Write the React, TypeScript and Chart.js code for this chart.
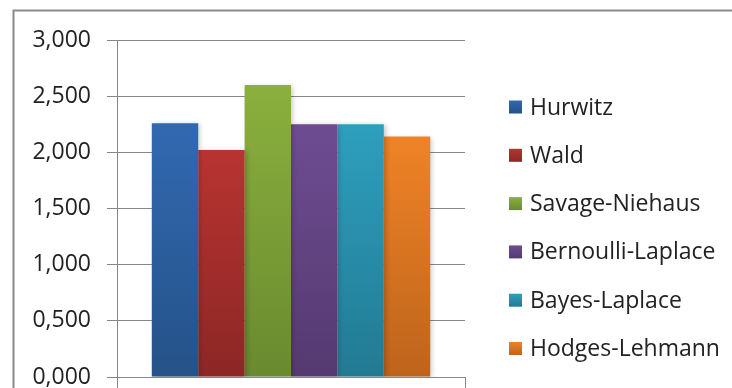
import { useEffect, useRef } from 'react';
import { Chart, registerables } from 'chart.js';

Chart.register(...registerables);

// Data
const categories = [''];
const seriesNames = [
  'Hurwitz',
  'Wald',
  'Savage-Niehaus',
  'Bernoulli-Laplace',
  'Bayes-Laplace',
  'Hodges-Lehmann',
];
const seriesValues = [2.26, 2.02, 2.6, 2.25, 2.25, 2.14];
const yMin = 0;
const yMax = 3;
const yStep = 0.5;

// Bar fills: lighter at the top, darker at the base
const topColors = ['#3169b1', '#b83431', '#8bb03e', '#6e4c92', '#2e9fbe', '#ef8326'];
const bottomColors = ['#255287', '#8b2725', '#698a2f', '#543a70', '#227a92', '#bd641c'];

const FONT = '"Open Sans", sans-serif';
const TEXT = '#222222';
const LINE = '#878787';

const formatTick = (v: number) => v.toFixed(3).replace('.', ',');

function barFill(ctx: any) {
  const i = ctx.datasetIndex;
  const chart = ctx.chart;
  if (!chart.chartArea || !chart.scales.y) return topColors[i];
  const y = chart.scales.y;
  const v = typeof ctx.raw === 'number' ? ctx.raw : seriesValues[i];
  const top = y.getPixelForValue(v);
  const base = y.getPixelForValue(0);
  const g = chart.ctx.createLinearGradient(0, top, 0, base);
  g.addColorStop(0, topColors[i]);
  g.addColorStop(1, bottomColors[i]);
  return g;
}

// White page and the outer frame of the chart object
const framePlugin = {
  id: 'frame',
  beforeDraw(chart: any) {
    const { ctx, width, height } = chart;
    ctx.save();
    ctx.fillStyle = '#ffffff';
    ctx.fillRect(0, 0, width, height);
    ctx.strokeStyle = '#8a8a8a';
    ctx.lineWidth = 2;
    ctx.beginPath();
    ctx.moveTo(13.5, height);
    ctx.lineTo(13.5, 10.5);
    ctx.lineTo(width, 10.5);
    ctx.stroke();
    ctx.restore();
  },
};

// Soft drop shadow behind the bars
const shadowPlugin = {
  id: 'barShadow',
  beforeDatasetsDraw(chart: any) {
    const ctx = chart.ctx;
    ctx.save();
    ctx.shadowColor = 'rgba(0,0,0,0.22)';
    ctx.shadowBlur = 5;
    ctx.shadowOffsetX = 2;
    ctx.shadowOffsetY = 1;
  },
  afterDatasetsDraw(chart: any) {
    chart.ctx.restore();
  },
};

// Legend on the right, one row per series
const legendPlugin = {
  id: 'sideLegend',
  afterDraw(chart: any) {
    const ctx = chart.ctx;
    const boxX = 509;
    const box = 13;
    const textX = 530;
    const firstY = 107;
    const rowStep = 48.3;
    ctx.save();
    ctx.font = `23px ${FONT}`;
    ctx.textBaseline = 'middle';
    ctx.textAlign = 'left';
    chart.data.datasets.forEach((ds: any, i: number) => {
      const cy = firstY + i * rowStep;
      const g = ctx.createLinearGradient(0, cy - box / 2, 0, cy + box / 2);
      g.addColorStop(0, topColors[i]);
      g.addColorStop(1, bottomColors[i]);
      ctx.fillStyle = g;
      ctx.fillRect(boxX, cy - box / 2, box, box);
      ctx.fillStyle = TEXT;
      ctx.fillText(ds.label, textX, cy + 1);
    });
    ctx.restore();
  },
};

export default function App() {
  const ref = useRef<HTMLCanvasElement>(null);

  useEffect(() => {
    document.body.style.margin = '0';
    const chart = new Chart(ref.current!, {
      type: 'bar',
      data: {
        labels: categories,
        datasets: seriesNames.map((name, i) => ({
          label: name,
          data: [seriesValues[i]],
          backgroundColor: barFill,
          borderWidth: 0,
          categoryPercentage: 0.8,
          barPercentage: 1.0,
        })),
      },
      options: {
        responsive: false,
        animation: false,
        events: [],
        layout: { padding: { left: 33, right: 267, top: 40, bottom: 0 } },
        plugins: {
          legend: { display: false },
          tooltip: { enabled: false },
          title: { display: false },
        },
        scales: {
          x: {
            offset: true,
            grid: {
              offset: true,
              drawOnChartArea: false,
              drawTicks: true,
              tickLength: 11,
              color: LINE,
            },
            border: { display: true, color: LINE },
            ticks: { display: false },
            afterFit: (s: any) => {
              s.height = 11;
              s.paddingLeft = 0;
              s.paddingRight = 0;
            },
          },
          y: {
            min: yMin,
            max: yMax,
            grid: { color: LINE, tickLength: 10, drawTicks: true },
            border: { display: true, color: LINE },
            ticks: {
              stepSize: yStep,
              padding: 16,
              color: TEXT,
              font: { family: FONT, size: 23 },
              callback: (v: any) => formatTick(Number(v)),
            },
            afterFit: (s: any) => {
              s.width = 84;
              s.paddingTop = 0;
              s.paddingBottom = 0;
            },
          },
        },
      },
      plugins: [framePlugin, shadowPlugin, legendPlugin],
    });
    return () => chart.destroy();
  }, []);

  return (
    <canvas
      ref={ref}
      width={732}
      height={388}
      style={{ display: 'block', position: 'fixed', left: 0, top: 0 }}
    />
  );
}
